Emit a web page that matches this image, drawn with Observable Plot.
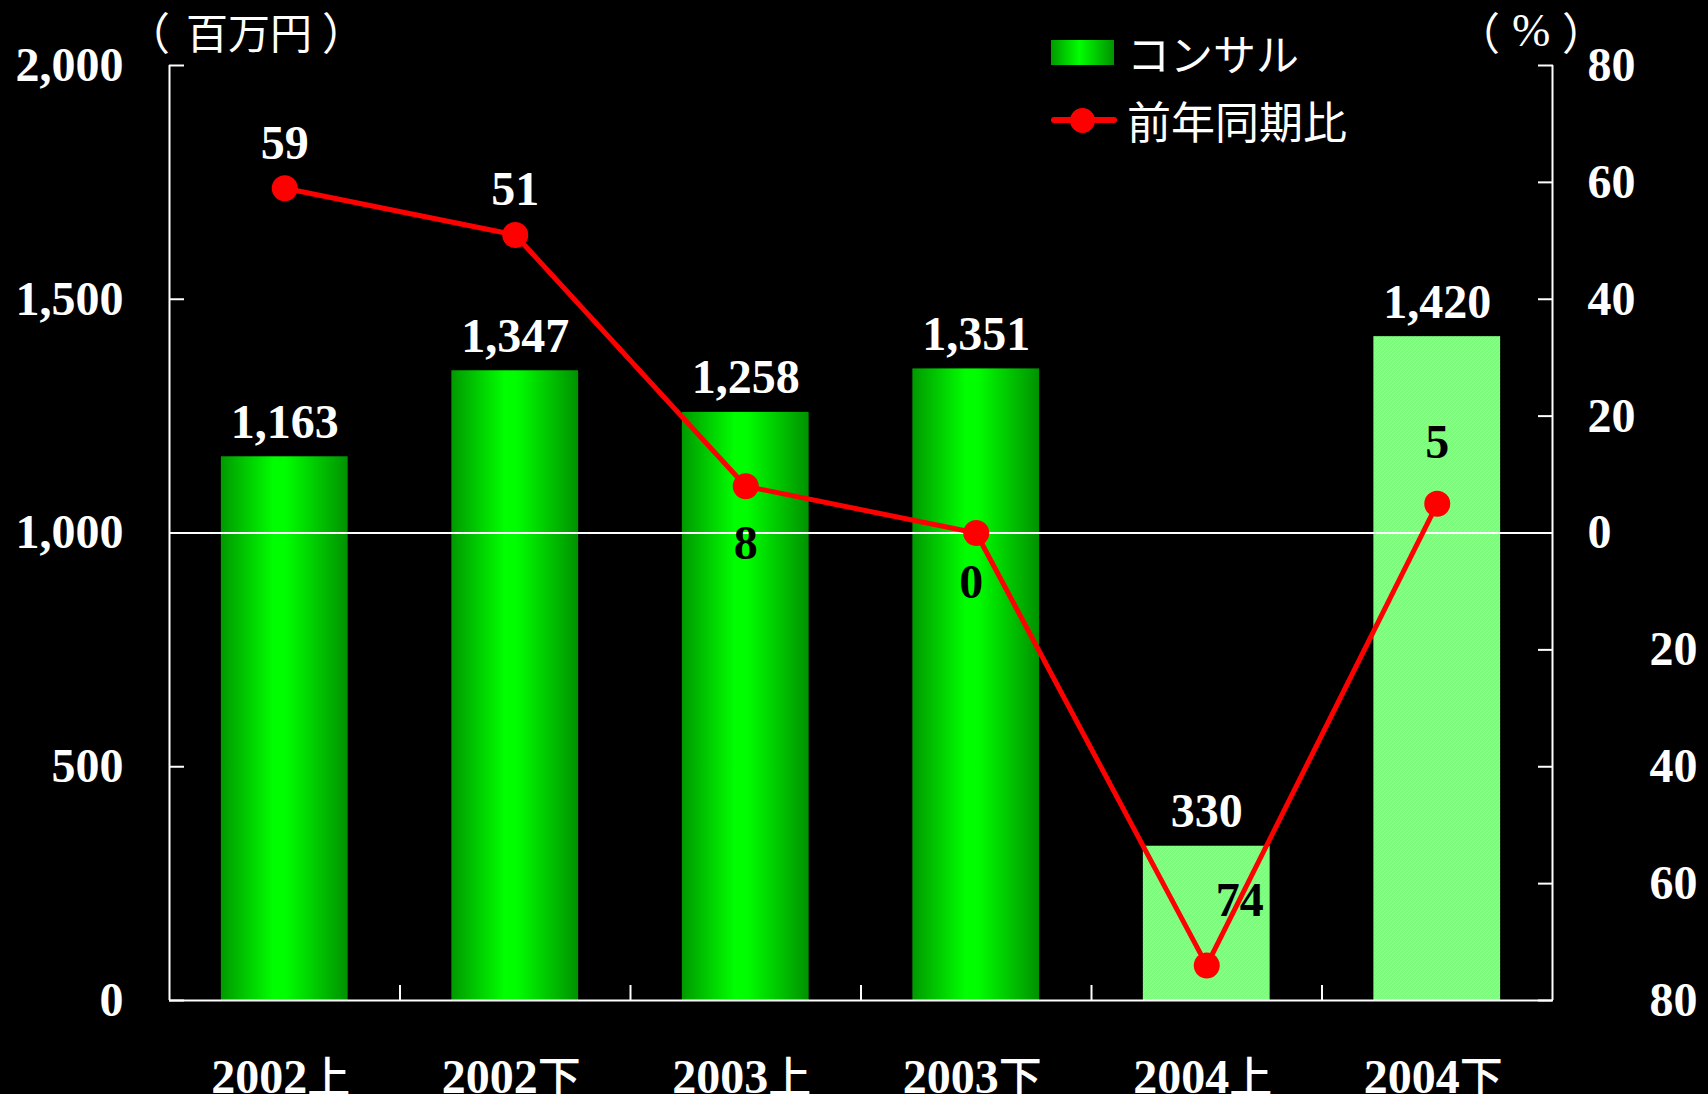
<!DOCTYPE html>
<html><head><meta charset="utf-8">
<script src="https://cdn.jsdelivr.net/npm/d3@7"></script>
<script src="https://cdn.jsdelivr.net/npm/@observablehq/plot@0.6"></script>
<style>
html,body{margin:0;padding:0;background:#000;}
#wrap{position:relative;width:1708px;height:1094px;overflow:hidden;background:#000;}
.ov{position:absolute;color:#fff;white-space:nowrap;font-family:"Noto Sans CJK JP","Noto Sans",sans-serif;}
</style></head><body><div id="wrap"></div>
<script>
// ---- data ----
const categories = ["2002上","2002下","2003上","2003下","2004上","2004下"];
const sales = [1163, 1347, 1258, 1351, 330, 1420];     // 百万円 (left axis)
const yoy = [59, 51, 8, 0, -74, 5];                     // 前年同期比 % (right axis)
const isLight = [false, false, false, false, true, true];
const leftTicks = [0, 500, 1000, 1500, 2000];
const rightTicksPos = [0, 20, 40, 60, 80];
const rightTicksNeg = [-20, -40, -60, -80];
const seriesNames = ["コンサル", "前年同期比"];
const unitLeft = ["（", "百万円", "）"];
const unitRight = ["（", "%", "）"];

// right axis (-80..80) mapped onto left scale (0..2000)
const toLeft = p => 1000 + p * (1000 / 80);
const fromLeft = v => Math.round((v - 1000) / (1000 / 80));

const rows = categories.map((c, i) => ({i, c, sales: sales[i], yoy: yoy[i], light: isLight[i]}));

const serif = "'Liberation Serif','Times New Roman',serif";
const numFont = {fontFamily: serif, fontWeight: "bold", fontSize: 48};

const defs = () => {
  const g = d3.create("svg:defs");
  const lg = g.append("linearGradient").attr("id", "gbar").attr("x1", 0).attr("x2", 1).attr("y1", 0).attr("y2", 0);
  lg.append("stop").attr("offset", "0%").attr("stop-color", "#009a00");
  lg.append("stop").attr("offset", "42%").attr("stop-color", "#00ff00");
  lg.append("stop").attr("offset", "52%").attr("stop-color", "#00fc00");
  lg.append("stop").attr("offset", "100%").attr("stop-color", "#009200");
  const pt = g.append("pattern").attr("id", "hatch").attr("patternUnits", "userSpaceOnUse").attr("width", 4).attr("height", 4);
  pt.append("rect").attr("width", 4).attr("height", 4).attr("fill", "#7cfb7c");
  pt.append("path").attr("d", "M-1,1 l2,-2 M0,4 l4,-4 M3,5 l2,-2").attr("stroke", "#8fff8f").attr("stroke-width", 1);
  return g.node();
};

const pctLabel = (idx, opts) => Plot.text(rows.filter(d => idx.includes(d.i)), {
  x: d => d.i + 0.5, y: d => toLeft(d.yoy), text: d => String(Math.abs(d.yoy)),
  ...numFont, lineAnchor: "middle", ...opts
});

const chart = Plot.plot({
  width: 1708, height: 1094,
  marginLeft: 169, marginRight: 156, marginTop: 65, marginBottom: 94,
  style: {background: "#000", color: "#fff", overflow: "visible"},
  x: {domain: [0, 6]},
  y: {domain: [0, 2000]},
  marks: [
    defs,
    Plot.rectY(rows.filter(d => !d.light), {x1: d => d.i + 0.225, x2: d => d.i + 0.775, y1: 0, y2: "sales", fill: "url(#gbar)"}),
    Plot.rectY(rows.filter(d => d.light), {x1: d => d.i + 0.225, x2: d => d.i + 0.775, y1: 0, y2: "sales", fill: "url(#hatch)"}),
    Plot.ruleY([toLeft(0)], {stroke: "#fff", strokeWidth: 2}),
    // axis lines
    Plot.ruleX([0, 6], {stroke: "#fff", strokeWidth: 2}),
    Plot.ruleY([0], {stroke: "#fff", strokeWidth: 2}),
    // left axis
    Plot.axisY({anchor: "left", label: null, ticks: leftTicks, tickFormat: d3.format(","), tickSize: 0, tickPadding: 46, ...numFont}),
    Plot.axisY({anchor: "left", label: null, ticks: leftTicks, tickFormat: () => "", tickSize: 15, dx: 15, strokeWidth: 2}),
    // right axis
    Plot.axisY({anchor: "right", label: null, ticks: rightTicksPos.map(toLeft), tickFormat: v => String(Math.abs(fromLeft(v))), tickSize: 0, tickPadding: 35, ...numFont}),
    Plot.axisY({anchor: "right", label: null, ticks: rightTicksNeg.map(toLeft), tickFormat: v => String(Math.abs(fromLeft(v))), tickSize: 0, tickPadding: 97, ...numFont}),
    Plot.axisY({anchor: "right", label: null, ticks: rightTicksPos.concat(rightTicksNeg).map(toLeft), tickFormat: () => "", tickSize: 15, dx: -15, strokeWidth: 2}),
    // bottom axis
    Plot.axisX({anchor: "bottom", label: null, ticks: categories.map((c, i) => i + 0.5), tickFormat: v => categories[Math.floor(v)], tickSize: 0, tickPadding: 58, dx: -4, fontFamily: serif, fontWeight: "bold", fontSize: 48}),
    Plot.axisX({anchor: "bottom", label: null, ticks: [1, 2, 3, 4, 5], tickFormat: () => "", tickSize: 15, dy: -15, strokeWidth: 2}),
    // bar labels
    Plot.text(rows, {x: d => d.i + 0.5, y: "sales", text: d => d3.format(",")(d.sales), ...numFont, fill: "#fff", lineAnchor: "bottom", dy: -19}),
    // line
    Plot.line(rows, {x: d => d.i + 0.5, y: d => toLeft(d.yoy), stroke: "#ff0000", strokeWidth: 5}),
    Plot.dot(rows, {x: d => d.i + 0.5, y: d => toLeft(d.yoy), r: 13, fill: "#ff0000"}),
    // line labels
    pctLabel([0, 1], {fill: "#fff", dy: -45}),
    pctLabel([2], {fill: "#000", dy: 57}),
    pctLabel([3], {fill: "#000", dy: 50, dx: -5}),
    pctLabel([4], {fill: "#000", dy: -65, dx: 33}),
    pctLabel([5], {fill: "#000", dy: -61})
  ]
});

// category labels: serif digits + gothic kanji
d3.select(chart).selectAll('[aria-label="x-axis tick label"] text').each(function() {
  const t = this.textContent;
  if (!t) return;
  const m = t.match(/^(\d+)(.*)$/);
  if (!m) return;
  this.textContent = "";
  const sel = d3.select(this);
  sel.append("tspan").text(m[1]);
  sel.append("tspan").attr("font-family", "'Noto Sans CJK JP',sans-serif").attr("font-weight", "500").attr("font-size", 43).text(m[2]);
});

const wrap = document.getElementById("wrap");
wrap.appendChild(chart);

function ov(text, css) {
  const d = document.createElement("div");
  d.className = "ov";
  d.textContent = text;
  Object.assign(d.style, css);
  wrap.appendChild(d);
  return d;
}
// unit labels
ov(unitLeft[0], {left: "126px", top: "10px", fontSize: "44px", lineHeight: "42px"});
ov(unitLeft[1], {left: "186px", top: "9px", fontSize: "42px", lineHeight: "44px"});
ov(unitLeft[2], {left: "322px", top: "10px", fontSize: "44px", lineHeight: "42px"});
ov(unitRight[0], {left: "1456px", top: "10px", fontSize: "44px", lineHeight: "42px"});
ov(unitRight[1], {left: "1512px", top: "10px", fontSize: "46px", lineHeight: "42px", fontFamily: serif});
ov(unitRight[2], {left: "1562px", top: "10px", fontSize: "44px", lineHeight: "42px"});
// legend
ov("", {left: "1051px", top: "40px", width: "63px", height: "25px", background: "linear-gradient(to right,#009a00,#00ff00 45%,#009200)"});
ov(seriesNames[0], {left: "1127px", top: "29px", fontSize: "43px", lineHeight: "46px"});
ov("", {left: "1051px", top: "117px", width: "66px", height: "6px", background: "#ff0000", borderRadius: "3px"});
ov("", {left: "1070px", top: "108px", width: "25px", height: "25px", background: "#ff0000", borderRadius: "50%"});
ov(seriesNames[1], {left: "1127px", top: "97px", fontSize: "44px", lineHeight: "46px"});
</script></body></html>
